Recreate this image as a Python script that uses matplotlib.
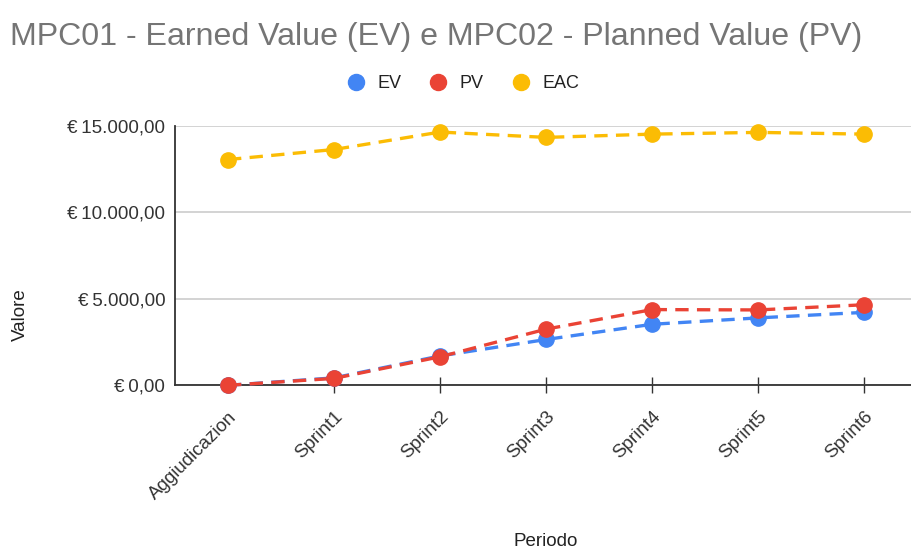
import numpy as np
import matplotlib.pyplot as plt
from matplotlib.ticker import FuncFormatter

# data
periods = ['Aggiudicazion', 'Sprint1', 'Sprint2', 'Sprint3', 'Sprint4', 'Sprint5', 'Sprint6']
ev = [0, 430, 1700, 2650, 3530, 3900, 4220]
pv = [0, 400, 1650, 3250, 4380, 4360, 4660]
eac = [13060, 13640, 14650, 14340, 14530, 14630, 14530]
y_ticks = [0, 5000, 10000, 15000]

plt.rcParams['font.family'] = ['Liberation Sans', 'DejaVu Sans']

fig = plt.figure(figsize=(9.11, 5.5), dpi=100)
ax = fig.add_axes([175/911, 1 - 385.3/550, 1 - 175/911, (385.3 - 126)/550])

x = np.arange(len(periods))
series = [('EV', ev, '#4285F4'), ('PV', pv, '#EA4335'), ('EAC', eac, '#FBBC04')]
for name, vals, col in series:
    ax.plot(x, vals, color=col, lw=2.4, ls=(0, (4, 2.5)), marker='o', ms=11,
            mec=col, label=name, clip_on=False, zorder=3)

def euro(v, pos):
    s = f'{v:,.2f}'.replace(',', 'X').replace('.', ',').replace('X', '.')
    return '€\u2009' + s

ax.set_ylim(0, 15000)
ax.set_yticks(y_ticks)
ax.yaxis.set_major_formatter(FuncFormatter(euro))
ax.set_xlim(-0.5, (911 - 228.3) / 106)
ax.set_xticks(x)
ax.set_xticklabels(periods, rotation=45, ha='right', rotation_mode='anchor')

ax.grid(axis='y', color='#cccccc', lw=1.2)
ax.set_axisbelow(True)
for s in ['top', 'right']:
    ax.spines[s].set_visible(False)
ax.spines['left'].set_color('#333333')
ax.spines['bottom'].set_color('#333333')
ax.spines['left'].set_linewidth(1.3)
ax.spines['bottom'].set_linewidth(1.3)
ax.tick_params(axis='y', length=0, pad=7, labelsize=13.5, labelcolor='#333333')
ax.tick_params(axis='x', direction='inout', length=11, width=1, color='#333333',
               pad=11, labelsize=13.5, labelcolor='#333333')

fig.text(0.011, 1 - 37/550, 'MPC01 - Earned Value (EV) e MPC02 - Planned Value (PV)',
         fontsize=23.1, color='#757575', va='center', ha='left')
fig.text(20/911, 1 - 315/550, 'Valore', rotation=90, fontsize=13.5, color='#222222',
         va='center', ha='center')
fig.text(546/911, 1 - 541/550, 'Periodo', fontsize=13.5, color='#222222',
         va='center', ha='center')

leg = fig.legend(loc='center', bbox_to_anchor=(463/911, 1 - 84/550), ncol=3, frameon=False,
                 fontsize=13, handlelength=1, handletextpad=0.7, columnspacing=1.55,
                 markerscale=1.05)
for h in leg.legend_handles:
    h.set_linestyle('none')
for t in leg.get_texts():
    t.set_color('#222222')

fig.savefig('out.png', dpi=100)
